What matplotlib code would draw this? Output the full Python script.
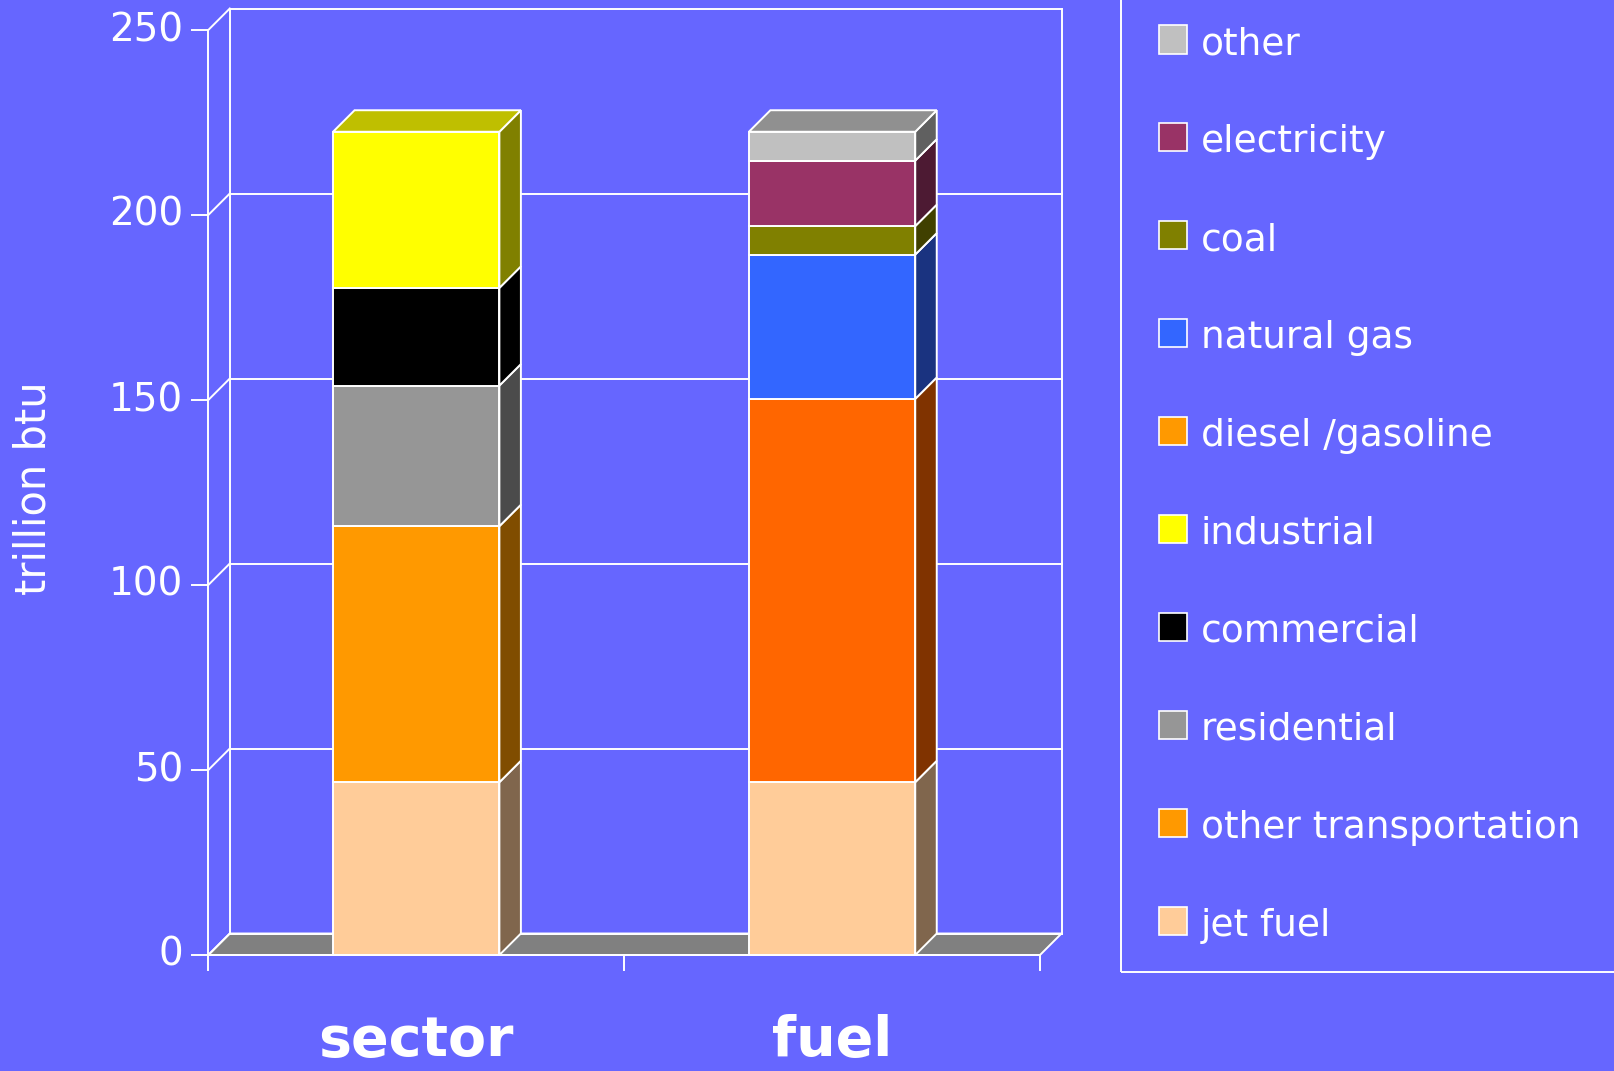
import matplotlib
matplotlib.use("Agg")
import matplotlib.pyplot as plt
from matplotlib.patches import Polygon, Rectangle
import matplotlib.colors as mcolors

# ---------------- data ----------------
categories = ["sector", "fuel"]
series_names = ["jet fuel", "other transportation", "residential", "commercial",
                "industrial", "diesel /gasoline", "natural gas", "coal",
                "electricity", "other"]
series_colors = ["#FFCC99", "#FF9900", "#969696", "#000000", "#FFFF00",
                 "#FF6600", "#3366FF", "#808000", "#993366", "#C0C0C0"]
legend_colors = ["#FFCC99", "#FF9900", "#969696", "#000000", "#FFFF00",
                 "#FF9900", "#3366FF", "#808000", "#993366", "#C0C0C0"]
# values per series for [sector, fuel]
jet_fuel = [46.7, 46.7]
other_transportation = [69.2, 0.0]
residential = [38.0, 0.0]
commercial = [26.4, 0.0]
industrial = [42.2, 0.0]
diesel_gasoline = [0.0, 103.6]
natural_gas = [0.0, 39.0]
coal = [0.0, 7.7]
electricity = [0.0, 17.7]
other = [0.0, 7.8]
series_values = [jet_fuel, other_transportation, residential, commercial,
                 industrial, diesel_gasoline, natural_gas, coal, electricity, other]
y_ticks = [0, 50, 100, 150, 200, 250]
y_label = "trillion btu"

# ---------------- layout ----------------
W, H = 1614, 1071
BG = "#6666FF"
WHITE = "#FFFFFF"
FONT = "DejaVu Sans"
fig = plt.figure(figsize=(W / 100, H / 100), dpi=100, facecolor=BG)

front_left, front_right = 208.3, 1040.0
front_bottom = 955.0
px_per_y = 3.7
depth = 21.5
ymax = 250
ncat = len(categories)
px_per_x = (front_right - front_left) / ncat
ddx = depth / px_per_x
ddy = depth / px_per_y
top_px = front_bottom - ymax * px_per_y - depth
ax = fig.add_axes([front_left / W, (H - front_bottom) / H,
                   (front_right + depth - front_left) / W,
                   (front_bottom - top_px) / H])
ax.set_xlim(0, ncat + ddx)
ax.set_ylim(0, ymax + ddy)
ax.axis("off")
ax.set_facecolor(BG)

lw = 1.4
# floor
ax.add_patch(Polygon([(0, 0), (ncat, 0), (ncat + ddx, ddy), (ddx, ddy)],
                     closed=True, facecolor="#808080", edgecolor=WHITE,
                     linewidth=lw, zorder=1, clip_on=False))
# back wall frame and gridlines
ax.plot([ddx, ddx], [ddy, ymax + ddy], color=WHITE, lw=lw, zorder=1, clip_on=False)
ax.plot([ncat + ddx, ncat + ddx], [ddy, ymax + ddy], color=WHITE, lw=lw, zorder=1, clip_on=False)
for v in y_ticks:
    ax.plot([ddx, ncat + ddx], [v + ddy, v + ddy], color=WHITE, lw=lw, zorder=1, clip_on=False)
    ax.plot([0, ddx], [v, v + ddy], color=WHITE, lw=lw, zorder=1, clip_on=False)
# front axes
ax.plot([0, 0], [0, ymax], color=WHITE, lw=lw, zorder=1, clip_on=False)
ax.plot([0, ncat], [0, 0], color=WHITE, lw=lw, zorder=1, clip_on=False)
# ticks
tick_len_px = 16
for v in y_ticks:
    ax.plot([-tick_len_px / px_per_x, 0], [v, v], color=WHITE, lw=lw, zorder=1, clip_on=False)
    ax.annotate(str(v), xy=(0, v), xytext=(-25, 0), textcoords="offset pixels",
                ha="right", va="center", color=WHITE, fontsize=28, family=FONT,
                annotation_clip=False)
for i in range(ncat + 1):
    ax.plot([i, i], [0, -15 / px_per_y], color=WHITE, lw=lw, zorder=1, clip_on=False)

# category labels
for i, c in enumerate(categories):
    ax.annotate(c, xy=(i + 0.5, 0), xytext=(0, -101), textcoords="offset pixels",
                ha="center", va="baseline", color=WHITE, fontsize=40,
                fontweight="bold", family=FONT, annotation_clip=False)

# y label
fig.text(34 / W, 1 - 488 / H, y_label, rotation=90, ha="center", va="center",
         color=WHITE, fontsize=30, family=FONT)


def shade(c, f):
    r, g, b = mcolors.to_rgb(c)
    return (r * f, g * f, b * f)


# bars
bar_w = 0.4
for ci in range(ncat):
    x0 = ci + 0.5 - bar_w / 2
    x1 = ci + 0.5 + bar_w / 2
    bottom = 0.0
    segs = [(series_values[s][ci], series_colors[s]) for s in range(len(series_names))
            if series_values[s][ci] > 0]
    for k, (val, col) in enumerate(segs):
        t = bottom + val
        ax.add_patch(Polygon([(x1, bottom), (x1 + ddx, bottom + ddy),
                              (x1 + ddx, t + ddy), (x1, t)], closed=True,
                             facecolor=shade(col, 0.5), edgecolor=WHITE,
                             linewidth=lw, zorder=3, clip_on=False))
        ax.add_patch(Rectangle((x0, bottom), x1 - x0, val, facecolor=col,
                               edgecolor=WHITE, linewidth=lw, zorder=4, clip_on=False))
        if k == len(segs) - 1:
            ax.add_patch(Polygon([(x0, t), (x1, t), (x1 + ddx, t + ddy),
                                  (x0 + ddx, t + ddy)], closed=True,
                                 facecolor=shade(col, 0.75), edgecolor=WHITE,
                                 linewidth=lw, zorder=3, clip_on=False))
        bottom = t

# legend (figure pixel layout)
fig.patches.append(Rectangle((1121 / W, 1 - 972 / H), (W + 10 - 1121) / W, (972 + 10) / H,
                             transform=fig.transFigure, facecolor="none",
                             edgecolor=WHITE, linewidth=lw, figure=fig))
order = list(range(len(series_names)))[::-1]
sw = 28
for j, s in enumerate(order):
    cy = 39.5 + j * 97.9
    fig.patches.append(Rectangle((1159 / W, 1 - (cy + sw / 2) / H), sw / W, sw / H,
                                 transform=fig.transFigure,
                                 facecolor=legend_colors[s], edgecolor=WHITE,
                                 linewidth=1.2, figure=fig))
    fig.text(1200.7 / W, 1 - (cy + sw / 2 + 1) / H, series_names[s], ha="left",
             va="baseline", color=WHITE, fontsize=27, family=FONT)

fig.savefig("out.png", dpi=100, facecolor=BG)
